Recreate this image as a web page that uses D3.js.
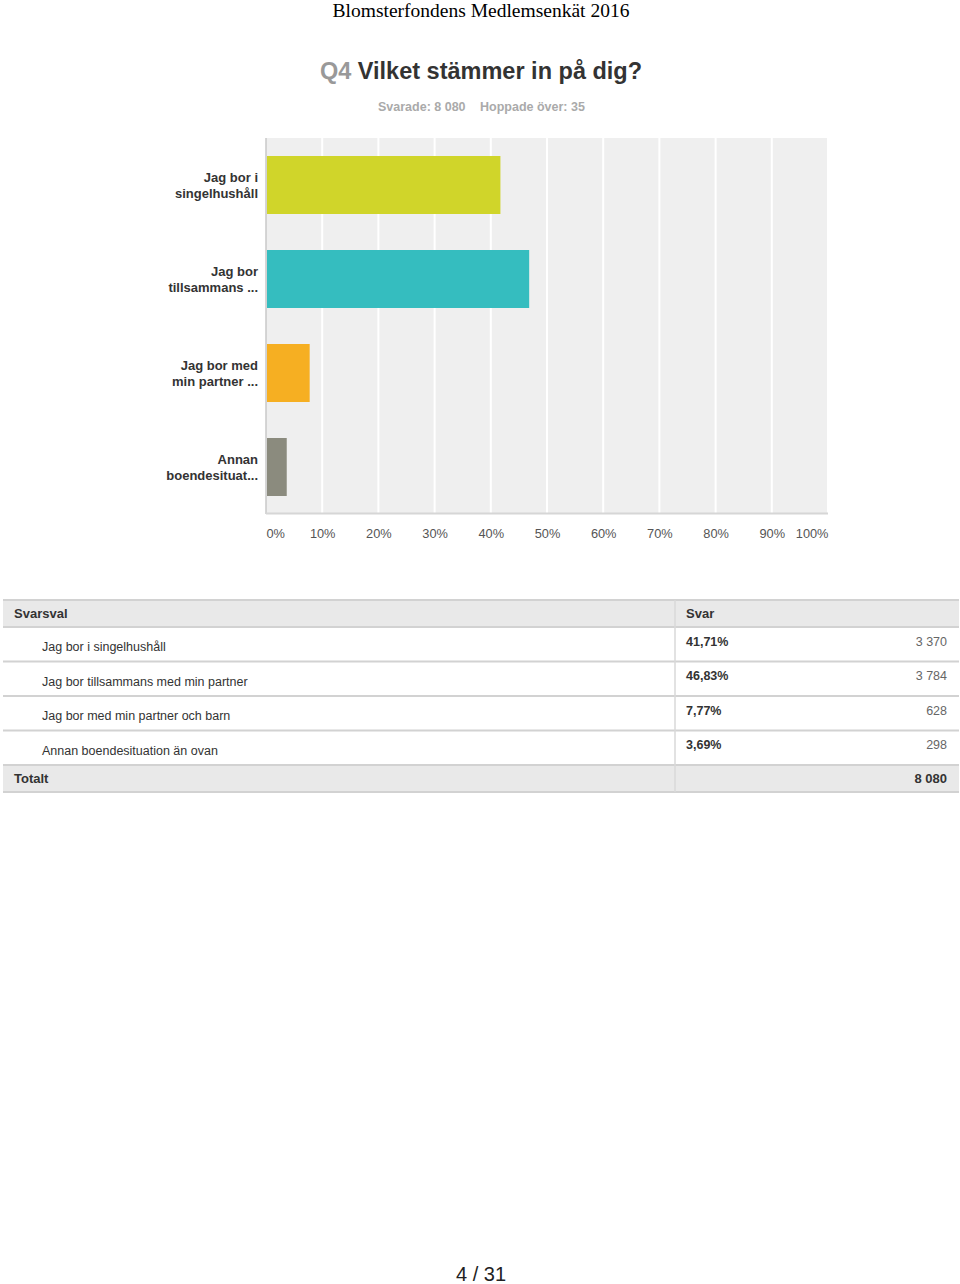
<!DOCTYPE html>
<html><head><meta charset="utf-8">
<script src="https://cdn.jsdelivr.net/npm/d3@7"></script>
<style>
html,body{margin:0;padding:0;background:#fff;}
svg text{font-family:"Liberation Sans",Arial,Helvetica,sans-serif;}
</style></head>
<body>
<svg id="c" width="960" height="1284"></svg>
<script>
const docTitle = "Blomsterfondens Medlemsenkät 2016";
const qNum = "Q4";
const qText = "Vilket stämmer in på dig?";
const answered = "Svarade: 8 080";
const skipped = "Hoppade över: 35";
const barLabels = [["Jag bor i","singelhushåll"],["Jag bor","tillsammans ..."],["Jag bor med","min partner ..."],["Annan","boendesituat..."]];
const fullLabels = ["Jag bor i singelhushåll","Jag bor tillsammans med min partner","Jag bor med min partner och barn","Annan boendesituation än ovan"];
const percents = [41.71, 46.83, 7.77, 3.69];
const percentText = ["41,71%","46,83%","7,77%","3,69%"];
const counts = ["3 370","3 784","628","298"];
const totalText = "8 080";
const barColors = ["#d0d52a","#35bdbf","#f6af22","#8b8b7e"];
const tickValues = [0,10,20,30,40,50,60,70,80,90,100];
const pageText = "4 / 31";

const svg = d3.select("#c");

// header
svg.append("text").attr("x",481).attr("y",17).attr("text-anchor","middle")
  .style("font-family","'Liberation Serif','Times New Roman',serif").style("font-size","19.5px").attr("fill","#000")
  .text(docTitle);

const t = svg.append("text").attr("x",481).attr("y",79).attr("text-anchor","middle")
  .style("font-size","23.5px").style("font-weight","bold");
t.append("tspan").attr("fill","#999").text(qNum + " ");
t.append("tspan").attr("fill","#333").text(qText);

svg.append("text").attr("x",378).attr("y",111).style("font-size","12.5px").style("font-weight","bold").attr("fill","#aaa").text(answered);
svg.append("text").attr("x",480).attr("y",111).style("font-size","12.5px").style("font-weight","bold").attr("fill","#aaa").text(skipped);

// chart
const L = 266, R = 828, T = 138, B = 514;
const x = d3.scaleLinear().domain([0,100]).range([L,R]);
const y = d3.scaleBand().domain(d3.range(percents.length)).range([T,B]).paddingInner(0.383).paddingOuter(0.1915);

svg.append("rect").attr("x",L).attr("y",T).attr("width",R-L).attr("height",B-T).attr("fill","#efefef");
svg.append("g").selectAll("line").data(tickValues.slice(1)).join("line")
  .attr("x1",d=>x(d)).attr("x2",d=>x(d)).attr("y1",T).attr("y2",B)
  .attr("stroke","#fff").attr("stroke-width",2);
svg.append("line").attr("x1",L).attr("x2",L).attr("y1",T).attr("y2",B).attr("stroke","#c8c8c8").attr("stroke-width",1.5);
svg.append("line").attr("x1",L).attr("x2",R).attr("y1",B-0.5).attr("y2",B-0.5).attr("stroke","#d6d6d6").attr("stroke-width",2);

svg.append("g").selectAll("rect").data(percents).join("rect")
  .attr("x",x(0)+1).attr("y",(d,i)=>y(i)).attr("height",y.bandwidth())
  .attr("width",d=>x(d)-x(0)-1).attr("fill",(d,i)=>barColors[i]);

const lab = svg.append("g").selectAll("text").data(barLabels).join("text")
  .attr("text-anchor","end").style("font-size","13px").style("font-weight","bold").attr("fill","#333");
lab.each(function(d,i){
  const cy = y(i) + y.bandwidth()/2;
  d3.select(this).selectAll("tspan").data(d).join("tspan")
    .attr("x",258).attr("y",(s,j)=>cy - 3 + j*16).text(s=>s);
});

const axis = d3.axisBottom(x).tickValues(tickValues).tickFormat(d=>d+"%").tickSize(0).tickPadding(0);
const ag = svg.append("g").attr("transform",`translate(0,${B+20})`).call(axis);
ag.select(".domain").remove();
ag.selectAll("text").style("font-size","12.8px").attr("fill","#555").attr("dy","0.32em")
  .style("font-family","'Liberation Sans',Arial,sans-serif")
  .attr("text-anchor",(d,i)=> i===0 ? "start" : (i===tickValues.length-1 ? "end" : "middle"));

// table
const TL = 3, TR = 959, colX = 675;
const headerTop = 600, headerH = 27, rowH = 34.5;
const rowsTop = headerTop + headerH;
const totalTop = rowsTop + rowH*percents.length;
const totalH = 27;

svg.append("rect").attr("x",TL).attr("y",headerTop).attr("width",TR-TL).attr("height",headerH).attr("fill","#e9e9e9");
svg.append("rect").attr("x",TL).attr("y",totalTop).attr("width",TR-TL).attr("height",totalH).attr("fill","#e9e9e9");
const lineYs = [headerTop, rowsTop].concat(d3.range(1,percents.length+1).map(i=>rowsTop+rowH*i), [totalTop+totalH]);
svg.append("g").selectAll("line").data(lineYs).join("line")
  .attr("x1",TL).attr("x2",TR).attr("y1",d=>d).attr("y2",d=>d).attr("stroke","#d2d2d2").attr("stroke-width",2);
svg.append("line").attr("x1",colX).attr("x2",colX).attr("y1",headerTop).attr("y2",totalTop+totalH).attr("stroke","#d9d9d9").attr("stroke-width",1.5);

svg.append("text").attr("x",14).attr("y",headerTop+headerH/2+4.5).style("font-size","13px").style("font-weight","bold").attr("fill","#333").text("Svarsval");
svg.append("text").attr("x",686).attr("y",headerTop+headerH/2+4.5).style("font-size","13px").style("font-weight","bold").attr("fill","#333").text("Svar");

const rows = svg.append("g").selectAll("g").data(fullLabels).join("g")
  .attr("transform",(d,i)=>`translate(0,${rowsTop+rowH*i})`);
rows.append("text").attr("x",42).attr("y",24).style("font-size","12.5px").attr("fill","#333").text(d=>d);
rows.append("text").attr("x",686).attr("y",18.5).style("font-size","12.5px").style("font-weight","bold").attr("fill","#333").text((d,i)=>percentText[i]);
rows.append("text").attr("x",947).attr("y",18.5).attr("text-anchor","end").style("font-size","12.5px").attr("fill","#666").text((d,i)=>counts[i]);

svg.append("text").attr("x",14).attr("y",totalTop+totalH/2+4.5).style("font-size","13px").style("font-weight","bold").attr("fill","#333").text("Totalt");
svg.append("text").attr("x",947).attr("y",totalTop+totalH/2+4.5).attr("text-anchor","end").style("font-size","13px").style("font-weight","bold").attr("fill","#333").text(totalText);

// footer
svg.append("text").attr("x",481).attr("y",1281).attr("text-anchor","middle").style("font-size","20px").attr("fill","#222").text(pageText);
</script>
</body></html>
